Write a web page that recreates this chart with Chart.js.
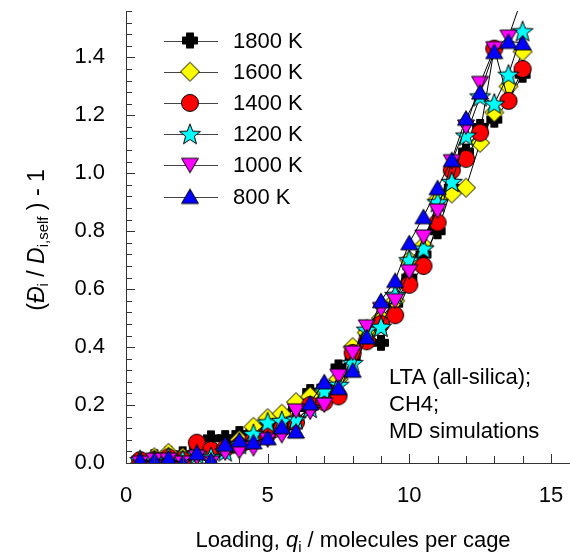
<!DOCTYPE html>
<html><head><meta charset="utf-8">
<script src="https://cdn.jsdelivr.net/npm/chart.js@4.4.0/dist/chart.umd.min.js"></script>
<style>html,body{margin:0;padding:0;background:#fff;}#wrap{width:570px;height:557px;position:relative;}</style>
</head><body><div id="wrap"><canvas id="c" width="570" height="557"></canvas></div>
<script>
// ---- data ----
const loadings = [0.5,1,1.5,2,2.5,3,3.5,4,4.5,5,5.5,6,6.5,7,7.5,8,8.5,9,9.5,10,10.5,11,11.5,12,12.5,13,13.5,14];
const k1800 = [0.01,0.02,0.03,0.03,0.06,0.085,0.086,0.10,0.11,0.13,0.15,0.19,0.245,0.26,0.33,0.36,0.45,0.415,0.55,0.64,0.72,0.80,0.95,1.075,1.16,1.185,1.25,1.34];
const k1600 = [0.0,0.02,0.035,0.02,0.03,0.04,0.05,0.08,0.125,0.155,0.17,0.21,0.23,0.25,0.29,0.40,0.45,0.50,0.56,0.70,0.75,0.91,0.93,0.95,1.105,1.21,1.30,1.42];
const k1400 = [0.01,0.01,0.02,0.01,0.07,0.045,0.05,0.06,0.08,0.10,0.12,0.14,0.20,0.21,0.23,0.38,0.42,0.48,0.51,0.615,0.68,0.83,1.01,1.05,1.14,1.43,1.25,1.36];
const k1200 = [0.01,0.01,0.02,0.01,0.03,0.02,0.04,0.065,0.10,0.14,0.145,0.15,0.19,0.25,0.27,0.345,0.46,0.47,0.58,0.70,0.74,0.90,0.97,1.13,1.265,1.24,1.34,1.49];
const k1000 = [0.0,0.01,0.01,0.0,0.02,0.0,0.035,0.04,0.05,0.08,0.095,0.18,0.176,0.2,0.30,0.38,0.47,0.53,0.56,0.66,0.78,0.87,1.04,1.16,1.31,1.43,1.47,1.61];
const k800  = [0.01,0.01,0.017,0.0,0.035,0.01,0.065,0.08,0.073,0.087,0.125,0.11,0.207,0.28,0.26,0.32,0.435,0.56,0.63,0.76,0.85,0.95,1.047,1.19,1.28,1.42,1.455,1.45];
const seriesLabels = ['1800 K','1600 K','1400 K','1200 K','1000 K','800 K'];
const xTickLabels = [0,5,10,15];
const yTickLabels = [0,0.2,0.4,0.6,0.8,1.0,1.2,1.4];
const noteLines = ['LTA (all-silica);','CH4;','MD simulations'];

const FONT = '"Liberation Sans", Arial, sans-serif';
Chart.defaults.font.family = FONT;

function marker(draw){
  const c = document.createElement('canvas'); c.width = 24; c.height = 24;
  const g = c.getContext('2d'); g.lineWidth = 1; g.strokeStyle = '#000';
  draw(g); return c;
}
function poly(g, pts, fill){
  g.beginPath(); g.moveTo(pts[0][0], pts[0][1]);
  for (let i=1;i<pts.length;i++) g.lineTo(pts[i][0], pts[i][1]);
  g.closePath(); g.fillStyle = fill; g.fill(); g.stroke();
}
const mPlus = marker(g=>{
  const a=3.5, b=7.5, c=12;
  poly(g, [[c-a,c-b],[c+a,c-b],[c+a,c-a],[c+b,c-a],[c+b,c+a],[c+a,c+a],[c+a,c+b],[c-a,c+b],[c-a,c+a],[c-b,c+a],[c-b,c-a],[c-a,c-a]], '#000');
});
const mDiamond = marker(g=>poly(g, [[12,2.5],[21.5,12],[12,21.5],[2.5,12]], '#FFFF00'));
const mCircle = marker(g=>{ g.beginPath(); g.arc(12,12,8.5,0,Math.PI*2); g.fillStyle='#FF0000'; g.fill(); g.stroke(); });
const mStar = marker(g=>{
  const pts=[]; for(let i=0;i<10;i++){ const r = i%2?4.6:11; const a = -Math.PI/2 + i*Math.PI/5; pts.push([12+r*Math.cos(a), 12.8+r*Math.sin(a)]); }
  poly(g, pts, '#00FFFF');
});
const mDown = marker(g=>poly(g, [[3.5,5],[20.5,5],[12,19.5]], '#FF00FF'));
const mUp = marker(g=>poly(g, [[12,4.5],[20.5,19],[3.5,19]], '#0000FF'));
const markers = [mPlus, mDiamond, mCircle, mStar, mDown, mUp];
const allSeries = [k1800, k1600, k1400, k1200, k1000, k800];

const datasets = allSeries.map((arr, si) => ({
  label: seriesLabels[si],
  data: loadings.map((x, i) => ({x: x, y: arr[i]})),
  showLine: true,
  borderColor: '#000',
  borderWidth: 1,
  pointStyle: markers[si],
  pointRadius: 9,
  order: 5 - si
}));

function drawRich(ctx, parts, x, y, align){
  let w = 0;
  parts.forEach(p => { ctx.font = p.f; w += ctx.measureText(p.t).width; });
  let cx = align === 'center' ? x - w/2 : x;
  parts.forEach(p => { ctx.font = p.f; ctx.fillText(p.t, cx, y + (p.dy||0)); cx += ctx.measureText(p.t).width; });
}

const deco = {
  id: 'deco',
  afterDraw(chart){
    const ctx = chart.ctx, xs = chart.scales.x, ys = chart.scales.y;
    ctx.save();
    ctx.strokeStyle = '#333'; ctx.lineWidth = 1;
    // extend x axis line to the right edge, as in the reference
    const by = Math.round(ys.bottom) + 0.5;
    ctx.beginPath(); ctx.moveTo(xs.right, by); ctx.lineTo(chart.width, by); ctx.stroke();
    // y tick marks (inward)
    for (let i = 0; i <= 39; i++) {
      const py = Math.round(ys.getPixelForValue(i*0.04)) + 0.5;
      const len = (i % 5 === 0) ? 9 : 6;
      ctx.beginPath(); ctx.moveTo(xs.left, py); ctx.lineTo(xs.left + len, py); ctx.stroke();
    }
    for (let i = 1; i <= 15; i++) {
      const px = Math.round(xs.getPixelForValue(i)) + 0.5;
      const len = (i % 5 === 0) ? 9 : 7;
      ctx.beginPath(); ctx.moveTo(px, ys.bottom); ctx.lineTo(px, ys.bottom - len); ctx.stroke();
    }
    // legend
    ctx.fillStyle = '#000'; ctx.textBaseline = 'middle'; ctx.textAlign = 'left';
    for (let i = 0; i < 6; i++) {
      const ry = 40.5 + i*31.2;
      ctx.strokeStyle = '#444';
      ctx.beginPath(); ctx.moveTo(164, Math.round(ry)+0.5); ctx.lineTo(218, Math.round(ry)+0.5); ctx.stroke();
      ctx.drawImage(markers[i], 190-12, ry-12);
      ctx.font = '22px ' + FONT;
      ctx.fillText(seriesLabels[i], 233, ry+1);
    }
    // annotation
    ctx.font = '22px ' + FONT;
    noteLines.forEach((t, i) => ctx.fillText(t, 389, 378 + i*27));
    // x title
    ctx.textBaseline = 'alphabetic';
    const F = '22px ' + FONT, FI = 'italic 22px ' + FONT, FS = '15px ' + FONT;
    drawRich(ctx, [{t:'Loading, ', f:F},{t:'q', f:FI},{t:'i', f:FS, dy:5},{t:' / molecules per cage', f:F}], 353, 547, 'center');
    // y title
    ctx.translate(38, 240); ctx.rotate(-Math.PI/2);
    ctx.textBaseline = 'middle';
    const G = '23px ' + FONT, GI = 'italic 23px ' + FONT, GS = '15px ' + FONT;
    drawRich(ctx, [{t:'(', f:G},{t:'Đ', f:GI},{t:'i', f:GS, dy:6},{t:' / ', f:G},{t:'D', f:GI},{t:'i,self', f:GS, dy:6},{t:' ) - 1', f:G}], 0, 0, 'center');
    ctx.restore();
  }
};

new Chart(document.getElementById('c'), {
  type: 'scatter',
  data: { datasets },
  options: {
    responsive: false, animation: false,
    layout: { padding: { top: 11, right: 0, left: 0, bottom: 0 } },
    plugins: { legend: { display: false }, tooltip: { enabled: false } },
    elements: { line: { tension: 0 } },
    scales: {
      x: {
        type: 'linear', min: 0, max: 15.32,
        afterBuildTicks: s => { s.ticks = xTickLabels.map(v => ({value: v})); },
        afterFit: s => { s.height = 94; s.paddingLeft = 0; s.paddingRight = 0; },
        grid: { display: false },
        border: { display: true, color: '#333', width: 1 },
        ticks: { color: '#000', font: { size: 22 }, padding: 12, maxRotation: 0, callback: v => String(v) }
      },
      y: {
        type: 'linear', min: 0, max: 1.56,
        afterBuildTicks: s => { s.ticks = yTickLabels.map(v => ({value: v})); },
        afterFit: s => { s.width = 126; s.paddingTop = 0; s.paddingBottom = 0; },
        grid: { display: false },
        border: { display: true, color: '#333', width: 1 },
        ticks: { color: '#000', font: { size: 22 }, padding: 13, callback: v => Number(v).toFixed(1) }
      }
    }
  },
  plugins: [deco]
});
</script></body></html>
